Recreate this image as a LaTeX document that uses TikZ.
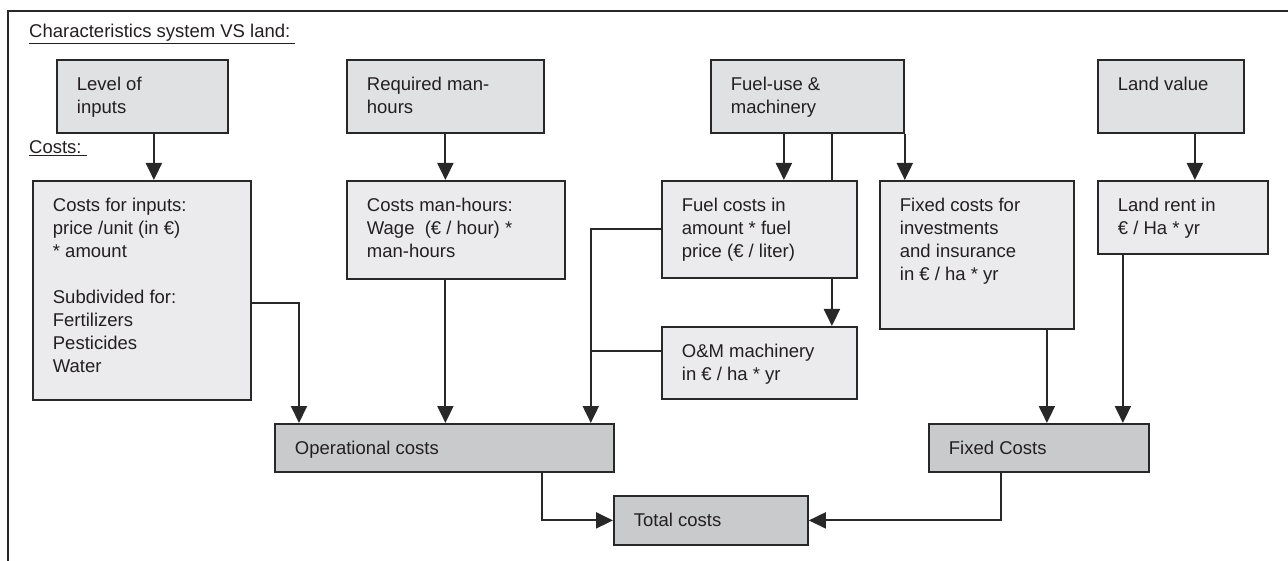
\documentclass[tikz,border=0pt]{standalone}
\usepackage{fontspec}
\setmainfont{Liberation Sans}
\usetikzlibrary{arrows.meta}
\definecolor{chargray}{RGB}{224,225,227}
\definecolor{costgray}{RGB}{235,235,237}
\definecolor{sumgray}{RGB}{201,202,204}
\definecolor{linegray}{RGB}{40,40,40}
\definecolor{inkgray}{RGB}{35,31,32}
\newcommand{\boxtext}[3]{\parbox[t][#2pt][t]{#1pt}{\raggedright #3}}

\tikzset{
  sysbox/.style={draw=linegray, line width=1.8pt, anchor=north west, inner xsep=20pt, inner ysep=17pt,
    font=\fontsize{18.5}{23}\selectfont, text=inkgray},
  charbox/.style={sysbox, fill=chargray},
  costbox/.style={sysbox, fill=costgray},
  sumbox/.style={sysbox, fill=sumgray},
  link/.style={draw=linegray, line width=2pt},
  arr/.style={link, -{Triangle[length=17pt,width=16pt]}},
  hdr/.style={anchor=base west, inner sep=0pt, font=\fontsize{18.5}{23}\selectfont, text=inkgray}
}

\begin{document}
\begin{tikzpicture}[x=1pt,y=-1pt]
\useasboundingbox (0,0) rectangle (1288,561);

% frame
\draw[draw=linegray, line width=2.2pt] (8.3,565) -- (8.3,11) -- (1292,11);

% headings
\node[hdr] (charhdr) at (29,38) {\underline{Characteristics system VS land:\ }};
\node[hdr] (costhdr) at (29,154) {\underline{Costs:\ }};

% characteristics system VS land
\node[charbox] (lvl) at (56,59) {\boxtext{131}{39}{Level of\\inputs}};
\node[charbox] (req) at (346,59) {\boxtext{157}{39}{Required man-\\hours}};
\node[charbox] (fuel) at (710,59) {\boxtext{153}{39}{Fuel-use \&\\machinery}};
\node[charbox] (land) at (1097,59) {\boxtext{106}{39}{Land value}};

% costs
\node[costbox] (cinp) at (32,180) {\boxtext{178}{185}{Costs for inputs:\\price /unit (in €)\\{}* amount\\[23pt]Subdivided for:\\Fertilizers\\Pesticides\\Water}};
\node[costbox] (cman) at (346,180) {\boxtext{178}{64}{Costs man-hours:\\Wage~ (€ / hour) *\\man-hours}};
\node[costbox] (cfuel) at (661,180) {\boxtext{155}{63}{Fuel costs in\\amount * fuel\\price (€ / liter)}};
\node[costbox] (cfix) at (879,180) {\boxtext{154}{114}{Fixed costs for\\investments\\and insurance\\in € / ha * yr}};
\node[costbox] (crent) at (1097,180) {\boxtext{130}{39}{Land rent in\\€ / Ha * yr}};
\node[costbox] (com) at (661,326) {\boxtext{155}{38}{O\&M machinery\\in € / ha * yr}};

% totals
\node[sumbox] (oper) at (274,423) {\boxtext{299}{14}{Operational costs}};
\node[sumbox] (fixc) at (928,423) {\boxtext{180}{14}{Fixed Costs}};
\node[sumbox] (total) at (613,495) {\boxtext{154}{15}{Total costs}};

% characteristics to costs
\coordinate (lvlout) at ([xshift=11.5pt]lvl.south);
\draw[arr] (lvlout) -- (lvlout |- cinp.north);
\draw[arr] (req.south) -- (req.south |- cman.north);
\coordinate (fuelout) at ([xshift=-23.5pt]fuel.south);
\draw[arr] (fuelout) -- (fuelout |- cfuel.north);
\coordinate (omin) at ([xshift=24.5pt]fuel.south);
\draw[link] (omin) -- (omin |- cfuel.north);
\draw[arr] (omin |- cfuel.south) -- (omin |- com.north);
\draw[arr] (fuel.south east) -- (fuel.south east |- cfix.north);
\coordinate (landout) at ([xshift=24pt]land.south);
\draw[arr] (landout) -- (landout |- crent.north);

% costs to operational costs
\coordinate (inpout) at ([yshift=-12.5pt]cinp.east);
\coordinate (opin) at ([xshift=25pt]oper.north west);
\draw[arr] (inpout) -| (opin);
\draw[arr] (cman.south -| req.south) -- (oper.north -| req.south);
\coordinate (opfuel) at ([xshift=-24pt]oper.north east);
\draw[arr] (cfuel.west) -| (opfuel);
\coordinate (omout) at ([yshift=12pt]com.west);
\draw[link] (omout) -- (omout -| opfuel);

% costs to fixed costs
\coordinate (fixout) at ([xshift=70pt]cfix.south);
\draw[arr] (fixout) -- (fixout |- fixc.north);
\coordinate (rentout) at ([xshift=-60pt]crent.south);
\draw[arr] (rentout) -- (rentout |- fixc.north);

% total costs
\coordinate (opout) at ([xshift=97.5pt]oper.south);
\draw[arr] (opout) |- (total.west);
\coordinate (fcout) at ([xshift=-38pt]fixc.south);
\draw[arr] (fcout) |- (total.east);

\end{tikzpicture}
\end{document}
